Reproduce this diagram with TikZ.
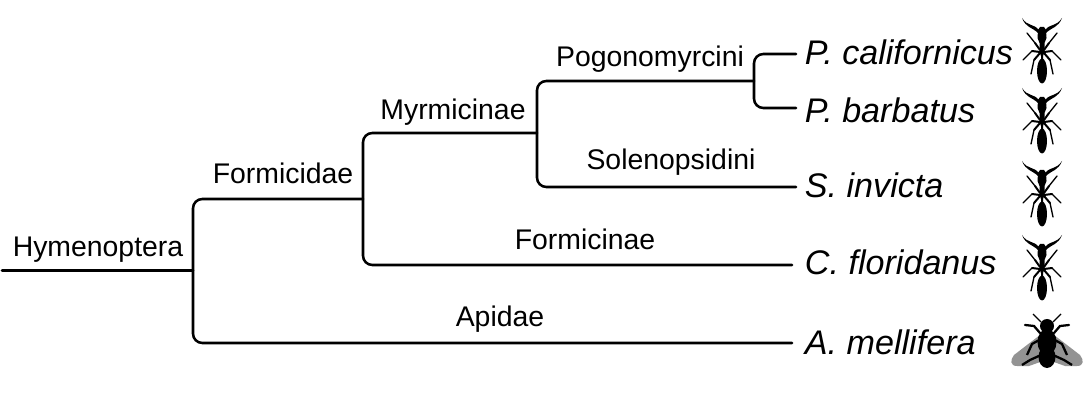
\documentclass[tikz,border=0pt]{standalone}
\usepackage{fontspec}
\setmainfont{Liberation Sans}
\usetikzlibrary{positioning}
\tikzset{
  branch/.style={line width=1.9pt,rounded corners=7pt,line cap=round},
  taxon/.style={font=\fontsize{21.3pt}{24pt}\selectfont,inner sep=0pt},
  species/.style={font=\fontsize{25.6pt}{28pt}\itshape\selectfont,anchor=west,inner ysep=0pt,inner xsep=6.5pt,text height=16.5pt,text depth=0pt},
  ant/.pic={
    \foreach \side in {1,-1}{
      \begin{scope}[xscale=\side]
        \fill (3,-20) .. controls (9,-27) and (14,-23) .. (20,-32) .. controls (16,-22) and (10,-23) .. (4,-17) -- cycle;
        \draw[line width=1.5pt,line cap=round] (2,0) -- (7,-7);
        \draw[line width=1pt,line cap=round] (7,-7) -- (15,-17);
        \draw[line width=1.5pt,line cap=round] (2,2) -- (10,1);
        \draw[line width=1pt,line cap=round] (10,1) -- (19,10);
        \draw[line width=1.5pt,line cap=round] (2,3) -- (8,10);
        \draw[line width=1pt,line cap=round] (8,10) -- (11,24);
      \end{scope}
    }
    \fill (-2,-23) -- (2,-23) -- (4,-20) -- (4.5,-12) -- (2.5,-7) -- (2.5,2) -- (1,6) -- (1,10) -- (-1,10) -- (-1,6) -- (-2.5,2) -- (-2.5,-7) -- (-4.5,-12) -- (-4,-20) -- cycle;
    \fill (0,21) ellipse (5 and 12.5);
  },
  bee/.pic={
    \foreach \side in {1,-1}{
      \begin{scope}[xscale=\side]
        \fill[gray!85] (7,-8) -- (33,12) .. controls (37,17) and (37,23) .. (30,23) -- (18,23) -- (4,18) -- cycle;
        \draw[line width=.9pt] (6,-21) -- (14,-29);
        \draw[line width=1.7pt,line cap=round] (7,-10) -- (13,-17) -- (22,-18);
        \draw[line width=1.7pt] (6,-4) -- (15,1) -- (20,12);
        \draw[line width=1.7pt] (6,12) -- (17,17) -- (25,22);
      \end{scope}
    }
    \fill (0,-17) ellipse (7 and 7);
    \fill (0,-1) ellipse (9.5 and 13);
    \fill (0,14) ellipse (8.5 and 11);
  }
}
\begin{document}
\begin{tikzpicture}[x=.75pt,y=-.75pt]
\useasboundingbox (0,0) rectangle (1091,409);
% branch points
\coordinate (root) at (2,270.6);
\coordinate (hym) at (193,270.6);
\coordinate (form) at (363,199);
\coordinate (myrm) at (537,133);
\coordinate (pogo) at (754,81);
\node[species] (pcal) at (796,54) {P. californicus};
\node[species,text height=22pt] (pbar) at (796,108) {P. barbatus};
\node[species] (sinv) at (796,187) {S. invicta};
\node[species,inner xsep=9.5pt,text height=15pt] (cflo) at (792,265) {C. floridanus};
\node[species,inner xsep=9.5pt] (amel) at (792,343) {A. mellifera};
\node[taxon] (hymlabel) at (98,250) {Hymenoptera};
\node[taxon] (formlabel) at (283,173) {Formicidae};
\node[taxon] (myrmlabel) at (453,112) {Myrmicinae};
\node[taxon] (pogolabel) at (650,59) {Pogonomyrcini};
\node[taxon] (solelabel) at (671,162) {Solenopsidini};
\node[taxon] (fcnlabel) at (585,239) {Formicinae};
\node[taxon] (apilabel) at (500,319) {Apidae};
\draw[branch] (root) -- (hym);
\draw[branch] (form) -| (hym) |- (amel.west);
\draw[branch] (myrm) -| (form) |- (cflo.west);
\draw[branch] (pogo) -| (myrm) |- (sinv.west);
\draw[branch] (pcal.west) -| (pogo) |- (pbar.west);
% silhouettes
\path (1042,50) pic {ant};
\path (1042,120) pic {ant};
\path (1042,193) pic {ant};
\path (1042,267) pic {ant};
\path (1047,343) pic {bee};
\end{tikzpicture}
\end{document}
